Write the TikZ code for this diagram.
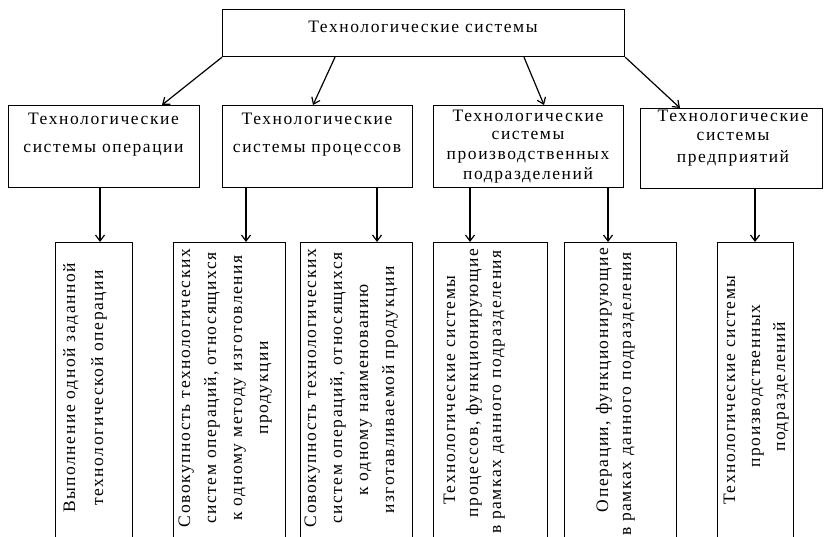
\documentclass[tikz,border=0pt]{standalone}
\usepackage{fontspec}
\setmainfont{Liberation Serif}[LetterSpace=9]
\usetikzlibrary{arrows.meta}
\begin{document}
\begin{tikzpicture}[x=1pt,y=-1pt,
  box/.style={draw, line width=1.2pt, inner sep=0pt, anchor=north west},
  txt/.style={inner sep=0pt, anchor=base, font=\fontsize{17.5}{20}\selectfont},
  vtxt/.style={txt, rotate=90},
  arr/.style={line width=1.2pt, -{Straight Barb[length=6pt,width=9pt]}}]
\useasboundingbox (0,0) rectangle (824,537);
\clip (0,0) rectangle (824,537);
% top
\node[box, minimum width=402pt, minimum height=47pt] (top) at (222,9) {};
\node[txt] (toptxt) at (423,33) {Технологические системы};
% level 2
\node[box, minimum width=191pt, minimum height=82pt] (s1) at (8,105) {};
\node[box, minimum width=190pt, minimum height=82pt] (s2) at (222,105) {};
\node[box, minimum width=190pt, minimum height=82pt] (s3) at (433,105) {};
\node[box, minimum width=182pt, minimum height=80pt] (s4) at (640,108) {};
\node[txt] (s1a) at (103.5,125) {Технологические};
\node[txt] (s1b) at (103.5,153) {системы операции};
\node[txt] (s2a) at (317,125) {Технологические};
\node[txt] (s2b) at (317,153) {системы процессов};
\node[txt] (s3a) at (528,122) {Технологические};
\node[txt] (s3b) at (528,140) {системы};
\node[txt] (s3c) at (528,160) {производственных};
\node[txt] (s3d) at (528,180) {подразделений};
\node[txt] (s4a) at (733,122) {Технологические};
\node[txt] (s4b) at (733,141) {системы};
\node[txt] (s4c) at (733,163) {предприятий};
% arrows top -> level 2
\draw[arr] (top.south west) -- ([xshift=154pt]s1.north west);
\draw[arr] ([xshift=113pt]top.south west) -- ([xshift=91pt]s2.north west);
\draw[arr] ([xshift=302pt]top.south west) -- ([xshift=111pt]s3.north west);
\draw[arr] (top.south east) -- ([xshift=40pt]s4.north west);
% level 3
\node[box, minimum width=77pt, minimum height=318pt] (b1) at (55,242) {};
\node[box, minimum width=112pt, minimum height=318pt] (b2) at (173,242) {};
\node[box, minimum width=112pt, minimum height=318pt] (b3) at (300,242) {};
\node[box, minimum width=114pt, minimum height=318pt] (b4) at (433,242) {};
\node[box, minimum width=112pt, minimum height=318pt] (b5) at (564,242) {};
\node[box, minimum width=76pt, minimum height=318pt] (b6) at (717,242) {};
% arrows level 2 -> level 3
\draw[arr] ([xshift=92pt]s1.south west) -- ([xshift=45pt]b1.north west);
\draw[arr] ([xshift=24pt]s2.south west) -- ([xshift=73pt]b2.north west);
\draw[arr] ([xshift=155pt]s2.south west) -- ([xshift=77pt]b3.north west);
\draw[arr] ([xshift=37pt]s3.south west) -- ([xshift=37pt]b4.north west);
\draw[arr] ([xshift=175pt]s3.south west) -- ([xshift=44pt]b5.north west);
\draw[arr] ([xshift=115pt]s4.south west) -- ([xshift=38pt]b6.north west);
% vertical texts
\node[vtxt] (b1a) at (75,388) {Выполнение одной заданной};
\node[vtxt] (b1b) at (103,388) {технологической операции};
\node[vtxt] (b2a) at (190,388) {Совокупность технологических};
\node[vtxt] (b2b) at (216,388) {систем операций, относящихся};
\node[vtxt] (b2c) at (242,388) {к одному методу изготовления};
\node[vtxt] (b2d) at (268,388) {продукции};
\node[vtxt] (b3a) at (316,388) {Совокупность технологических};
\node[vtxt] (b3b) at (342,388) {систем операций, относящихся};
\node[vtxt] (b3c) at (368,390) {к одному наименованию};
\node[vtxt] (b3d) at (394,390) {изготавливаемой продукции};
\node[vtxt] (b4a) at (455,390) {Технологические системы};
\node[vtxt] (b4b) at (478,383) {процессов, функционирующие};
\node[vtxt] (b4c) at (501,392) {в рамках данного подразделения};
\node[vtxt] (b5a) at (608,380) {Операции, функционирующие};
\node[vtxt] (b5b) at (631,394) {в рамках данного подразделения};
\node[vtxt] (b6a) at (735,390) {Технологические системы};
\node[vtxt] (b6b) at (760,386) {производственных};
\node[vtxt] (b6c) at (785,387) {подразделений};
\end{tikzpicture}
\end{document}
